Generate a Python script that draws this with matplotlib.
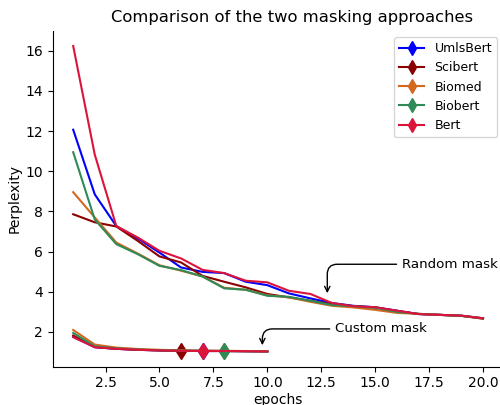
import matplotlib
matplotlib.use("Agg")
import matplotlib.pyplot as plt

# epochs
epochs_random = list(range(1, 21))
epochs_custom = list(range(1, 11))

# perplexity with random masking
umlsbert_random = [12.07, 8.85, 7.27, 6.65, 5.95, 5.21, 4.99, 4.93, 4.50, 4.33,
                   3.92, 3.67, 3.44, 3.30, 3.23, 3.06, 2.89, 2.85, 2.81, 2.68]
scibert_random = [7.86, 7.46, 7.25, 6.53, 5.76, 5.46, 4.79, 4.50, 4.22, 3.89,
                  3.72, 3.55, 3.38, 3.28, 3.22, 3.04, 2.90, 2.85, 2.80, 2.66]
biomed_random = [8.96, 7.70, 6.45, 5.90, 5.32, 5.05, 4.76, 4.20, 4.10, 3.83,
                 3.72, 3.50, 3.30, 3.22, 3.10, 2.95, 2.90, 2.85, 2.80, 2.67]
biobert_random = [10.95, 7.60, 6.37, 5.87, 5.29, 5.08, 4.76, 4.17, 4.10, 3.80,
                  3.75, 3.55, 3.34, 3.28, 3.20, 3.00, 2.90, 2.85, 2.80, 2.68]
bert_random = [16.24, 10.83, 7.27, 6.70, 6.04, 5.66, 5.09, 4.93, 4.55, 4.47,
               4.05, 3.89, 3.44, 3.28, 3.23, 3.06, 2.89, 2.85, 2.81, 2.68]

# perplexity with custom masking
umlsbert_custom = [1.76, 1.24, 1.16, 1.11, 1.08, 1.06, 1.05, 1.05, 1.04, 1.03]
scibert_custom = [1.82, 1.25, 1.16, 1.11, 1.08, 1.06, 1.05, 1.05, 1.04, 1.03]
biomed_custom = [2.10, 1.37, 1.22, 1.15, 1.11, 1.08, 1.07, 1.06, 1.05, 1.04]
biobert_custom = [1.95, 1.28, 1.18, 1.12, 1.09, 1.07, 1.06, 1.05, 1.04, 1.03]
bert_custom = [1.74, 1.24, 1.16, 1.11, 1.08, 1.06, 1.05, 1.05, 1.04, 1.03]

# best epoch (marker position) for the custom runs
best_epoch = {"UmlsBert": 7, "Scibert": 6, "Biomed": 8, "Biobert": 8, "Bert": 7}

models = [
    ("UmlsBert", "blue", umlsbert_random, umlsbert_custom),
    ("Scibert", "darkred", scibert_random, scibert_custom),
    ("Biomed", "chocolate", biomed_random, biomed_custom),
    ("Biobert", "seagreen", biobert_random, biobert_custom),
    ("Bert", "crimson", bert_random, bert_custom),
]

fig = plt.figure(figsize=(5.0, 4.05), dpi=100)
ax = fig.add_axes([0.1054, 0.0946, 0.9016, 0.8296])

for name, color, rand_vals, cust_vals in models:
    ax.plot(epochs_random, rand_vals, color=color, linewidth=1.5)
    ax.plot(epochs_custom, cust_vals, color=color, linewidth=1.5,
            marker="d", markersize=8, markevery=[best_epoch[name] - 1],
            label=name)

arrow = dict(arrowstyle="->", color="black",
             connectionstyle="angle,angleA=0,angleB=90,rad=10")
ax.annotate("Random mask", xy=(12.78, 3.79), xytext=(16.25, 5.37),
            va="center", ha="left", fontsize=9.6, arrowprops=arrow)
ax.annotate("Custom mask", xy=(9.77, 1.2), xytext=(13.15, 2.15),
            va="center", ha="left", fontsize=9.6, arrowprops=arrow)

title = ax.set_title("Comparison of the two masking approaches", fontsize=11.8)
title.set_x(0.531)
ax.set_xlabel("epochs", labelpad=2)
ax.set_ylabel("Perplexity", labelpad=2.5)
ax.spines["top"].set_visible(False)
ax.spines["right"].set_visible(False)
ax.legend(loc="upper right", bbox_to_anchor=(0.9856, 0.981), borderaxespad=0,
          fontsize=9, markerscale=0.9)

fig.savefig("out.png", dpi=100)
